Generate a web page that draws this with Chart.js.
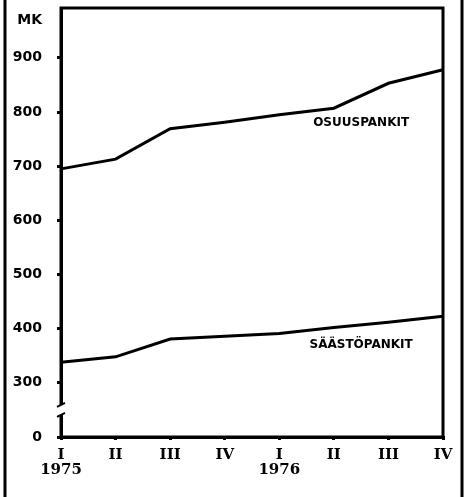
<!DOCTYPE html>
<html>
<head>
<meta charset="utf-8">
<script src="https://cdn.jsdelivr.net/npm/chart.js@4.4.0/dist/chart.umd.min.js"></script>
<style>
    html, body { margin: 0; padding: 0; background: #fff; }
    #wrap { width: 468px; height: 497px; }
</style>
</head>
<body>
<div id="wrap"><canvas id="chart" width="468" height="497"></canvas></div>
<script>
// Quarterly values, milj. mk
const quarters = [['I', '1975'], 'II', 'III', 'IV', ['I', '1976'], 'II', 'III', 'IV'];
const osuuspankit = [695, 713, 769, 781, 795, 807, 853, 878];
const saastopankit = [338, 348, 381, 386, 391, 402, 412, 423];
const seriesNames = ['OSUUSPANKIT', 'SÄÄSTÖPANKIT'];

// the axis is broken: the lowest tick stands for 0
const yTickValues = [200, 300, 400, 500, 600, 700, 800, 900, 970];
const yTickLabels = ['0', '300', '400', '500', '600', '700', '800', '900', 'MK'];

const framePlugin = {
    id: 'frame',
    afterDraw(chart) {
        const { ctx, chartArea: a, scales: { x, y } } = chart;
        ctx.save();
        ctx.strokeStyle = '#000';
        ctx.lineWidth = 3;
        ctx.strokeRect(a.left, a.top, a.right - a.left, a.bottom - a.top);

        // outer page frame
        ctx.beginPath();
        ctx.moveTo(5, 0); ctx.lineTo(5, chart.height);
        ctx.moveTo(462, 0); ctx.lineTo(462, chart.height);
        ctx.stroke();

        // axis break between 0 and 300
        const yb = y.getPixelForValue(250);
        ctx.fillStyle = '#fff';
        ctx.fillRect(a.left - 3, yb - 5, 6, 10);
        ctx.lineWidth = 2;
        ctx.beginPath();
        ctx.moveTo(a.left - 4, yb - 3); ctx.lineTo(a.left + 4, yb - 7);
        ctx.moveTo(a.left - 4, yb + 7); ctx.lineTo(a.left + 4, yb + 3);
        ctx.stroke();

        // line names
        ctx.fillStyle = '#000';
        ctx.font = 'bold 12px "DejaVu Sans"';
        ctx.textAlign = 'center';
        ctx.textBaseline = 'middle';
        const px = (x.getPixelForValue(5) + x.getPixelForValue(6)) / 2;
        ctx.fillText(seriesNames[0], px, y.getPixelForValue(780));
        ctx.fillText(seriesNames[1], px, y.getPixelForValue(370));
        ctx.restore();
    }
};

const ctx = document.getElementById('chart').getContext('2d');
new Chart(ctx, {
    type: 'line',
    data: {
        labels: quarters,
        datasets: [{
            label: seriesNames[0],
            data: osuuspankit,
            borderColor: '#000',
            borderWidth: 3,
            pointRadius: 0,
            tension: 0
        }, {
            label: seriesNames[1],
            data: saastopankit,
            borderColor: '#000',
            borderWidth: 3,
            pointRadius: 0,
            tension: 0
        }]
    },
    options: {
        responsive: false,
        animation: false,
        layout: { padding: { top: 8, right: 25, left: 0, bottom: 0 } },
        plugins: {
            legend: { display: false },
            tooltip: { enabled: false }
        },
        scales: {
            x: {
                offset: false,
                afterFit: scale => { scale.height = 60; },
                border: { color: '#000', width: 3 },
                grid: { drawOnChartArea: false, color: '#000', lineWidth: 3, tickLength: 3 },
                ticks: {
                    autoSkip: false,
                    maxRotation: 0,
                    padding: 8,
                    color: '#000',
                    font: { family: 'DejaVu Serif', weight: 'bold', size: 15, lineHeight: 1.0 }
                }
            },
            y: {
                min: 200,
                max: 992,
                afterFit: scale => {
                    scale.width = 61;
                    scale.paddingTop = 0;
                    scale.paddingBottom = 0;
                },
                afterBuildTicks: scale => {
                    scale.ticks = yTickValues.map(v => ({ value: v }));
                },
                border: { color: '#000', width: 3 },
                grid: {
                    drawOnChartArea: false,
                    lineWidth: 3,
                    tickLength: 4,
                    color: c => (c.tick && c.tick.value === 970) ? 'rgba(0,0,0,0)' : '#000'
                },
                ticks: {
                    padding: 15,
                    color: '#000',
                    font: { family: 'DejaVu Sans', weight: 'bold', size: 14 },
                    callback: value => yTickLabels[yTickValues.indexOf(value)]
                }
            }
        }
    },
    plugins: [framePlugin]
});
</script>
</body>
</html>
